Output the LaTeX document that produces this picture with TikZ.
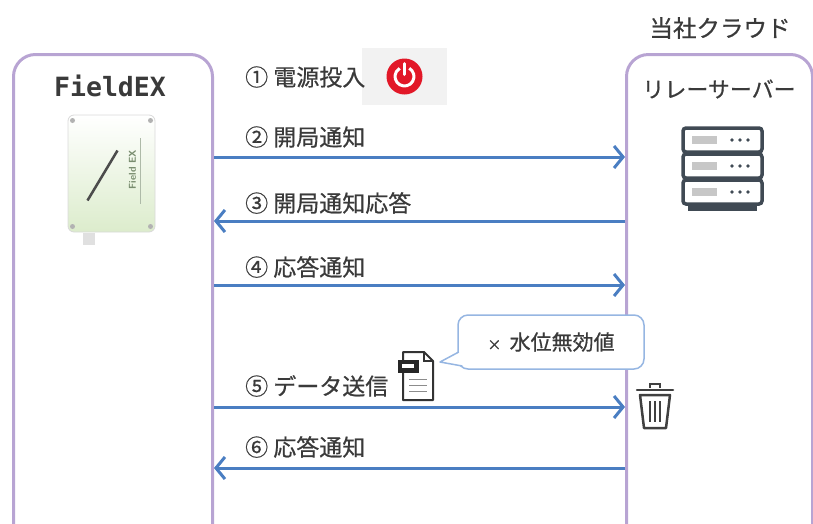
\documentclass[tikz,border=0pt]{standalone}
\usepackage{fontspec}
\newfontfamily\jp{Noto Sans CJK JP}[FakeBold=0.6]
\newfontfamily\mono{DejaVu Sans Mono}
\usetikzlibrary{arrows.meta,positioning}

\definecolor{lanepurple}{RGB}{184,164,211}
\definecolor{msgblue}{RGB}{74,126,194}
\definecolor{txtgrey}{RGB}{58,58,58}
\definecolor{slate}{RGB}{64,74,84}
\definecolor{tipblue}{RGB}{150,182,226}
\definecolor{pwred}{RGB}{226,24,40}
\definecolor{iconbg}{RGB}{242,242,242}
\definecolor{devgreen}{RGB}{220,236,204}
\definecolor{devtext}{RGB}{120,140,110}

\begin{document}
\begin{tikzpicture}[x=1pt,y=-1pt,
    lane/.style={draw=lanepurple,line width=3pt,rounded corners=22pt,anchor=north west},
    msg/.style={draw=msgblue,line width=3pt,-{Straight Barb[length=9pt,width=22pt]}},
    msglabel/.style={anchor=west,inner sep=0pt,text=txtgrey,font=\jp\fontsize{23}{26}\selectfont},
    lanetitle/.style={inner sep=0pt,text=txtgrey,font=\jp\fontsize{22}{26}\selectfont},
    device/.style={draw=black!15,line width=0.8pt,rounded corners=6pt,minimum width=87pt,minimum height=117pt,
        top color=white,bottom color=devgreen},
    notebox/.style={draw=tipblue,line width=1.5pt,rounded corners=10pt,fill=white,minimum width=186pt,minimum height=54pt,
        text=txtgrey,font=\jp\fontsize{21}{24}\selectfont},
    srvunit/.style={draw=slate,line width=3.5pt,rounded corners=3pt,fill=white}]

\useasboundingbox (0,0) rectangle (813,523);
\clip (0,0) rectangle (813,523);

% the two lanes
\node[lane,minimum width=199pt,minimum height=510pt] (fex) at (12,53) {};
\node[lane,minimum width=186pt,minimum height=510pt] (cloud) at (625,53) {};

\node[lanetitle,font=\mono\bfseries\fontsize{26.5}{30}\selectfont] (fextitle) at (110,86) {FieldEX};
\node[lanetitle,font=\jp\fontsize{23.5}{26}\selectfont] (cloudtitle) at (720,28) {当社クラウド};
\node[lanetitle] (relay) at (719,89) {リレーサーバー};

% FieldEX unit
\node[device] (dev) at (111.5,173.5) {};
\node[fill=black!12,minimum width=12pt,minimum height=12pt,inner sep=0pt,anchor=north] (plug) at ([xshift=-23pt]dev.south) {};
\foreach \sx/\sy in {-39/-53,39/-53,-39/53,39/53}
  \fill[black!30] ([shift={(\sx,\sy)}]dev.center) circle (2.5);
\draw[black!70,line width=2.5pt] ([shift={(-24,27)}]dev.center) -- ([shift={(6,-23)}]dev.center);
\node[rotate=90,inner sep=0pt,text=devtext,font=\sffamily\bfseries\fontsize{10}{11}\selectfont] (devname) at ([shift={(21,-4)}]dev.center) {Field EX};
\draw[devtext!60,line width=1pt] ([shift={(29,30)}]dev.center) -- ([shift={(29,-36)}]dev.center);

% relay server
\begin{scope}[shift={(683,128)}]
  \fill[slate] (5,75) rectangle (74,83);
  \foreach \k in {0,1,2} {
    \draw[srvunit] (0,26*\k) rectangle (79,26*\k+24);
    \fill[black!22] (9,26*\k+8) rectangle (34,26*\k+16);
    \foreach \d in {0,1,2}
      \fill[slate] (49+8*\d,26*\k+12) circle (1.8);
  }
\end{scope}

% messages
\foreach \n/\y in {2/157,3/221,4/285,5/407,6/468}
  \coordinate (m\n) at (0,\y);
\draw[msg] (fex.east |- m2) -- (cloud.west |- m2);
\draw[msg] (cloud.west |- m3) -- (fex.east |- m3);
\draw[msg] (fex.east |- m4) -- (cloud.west |- m4);
\draw[msg] (fex.east |- m5) -- (cloud.west |- m5);
\draw[msg] (cloud.west |- m6) -- (fex.east |- m6);

% power switch
\node[fill=iconbg,minimum width=85pt,minimum height=57pt,inner sep=0pt] (pwr) at (404.5,76.5) {};
\begin{scope}[shift={(pwr.center)}]
  \fill[pwred] (0,0) circle (18);
  \draw[white,line width=3pt] (-60:9.5) arc (-60:240:9.5);
  \draw[white,line width=3pt,line cap=round] (0,-13) -- (0,-2);
\end{scope}

\node[msglabel] (s1) at (245,77) {① 電源投入};
\node[msglabel] (s2) at (245,137) {② 開局通知};
\node[msglabel] (s3) at (245,203) {③ 開局通知応答};
\node[msglabel] (s4) at (245,267) {④ 応答通知};
\node[msglabel] (s5) at (245,386) {⑤ データ送信};
\node[msglabel] (s6) at (245,447) {⑥ 応答通知};

% data file
\begin{scope}[shift={(403,352)}]
  \draw[black!80,line width=2pt,fill=white,line join=round] (0,0) -- (21,0) -- (30,9) -- (30,48) -- (0,48) -- cycle;
  \draw[black!80,line width=1.5pt] (21,0) -- (21,9) -- (30,9);
  \fill[black!85] (-5,8) rectangle (16,21);
  \fill[white] (-1,12) rectangle (11,16);
  \foreach \r in {27,33,39}
    \draw[black!45,line width=1pt] (6,\r) -- (24,\r);
\end{scope}

% warning balloon
\node[notebox] (note) at (551,342) {{\fontsize{14}{16}\selectfont×}\, 水位無効値};
\fill[white] ([shift={(3,10)}]note.west) -- (440,362) -- ([shift={(7,24)}]note.west) -- cycle;
\draw[draw=tipblue,line width=1.5pt,line join=round] ([shift={(1.5,10)}]note.west) -- (440,362) -- ([shift={(5,24)}]note.west);

% trash can
\begin{scope}[shift={(655,382)},line width=2.5pt,black!75]
  \draw (-5,6) -- (-5,2) -- (5,2) -- (5,6);
  \draw[line cap=round] (-18,8) -- (18,8);
  \draw[line join=round] (-15,13) -- (-11,46) -- (11,46) -- (15,13) -- cycle;
  \foreach \x in {-5,0,5}
    \draw (\x,19) -- (\x,40);
\end{scope}

\end{tikzpicture}
\end{document}
